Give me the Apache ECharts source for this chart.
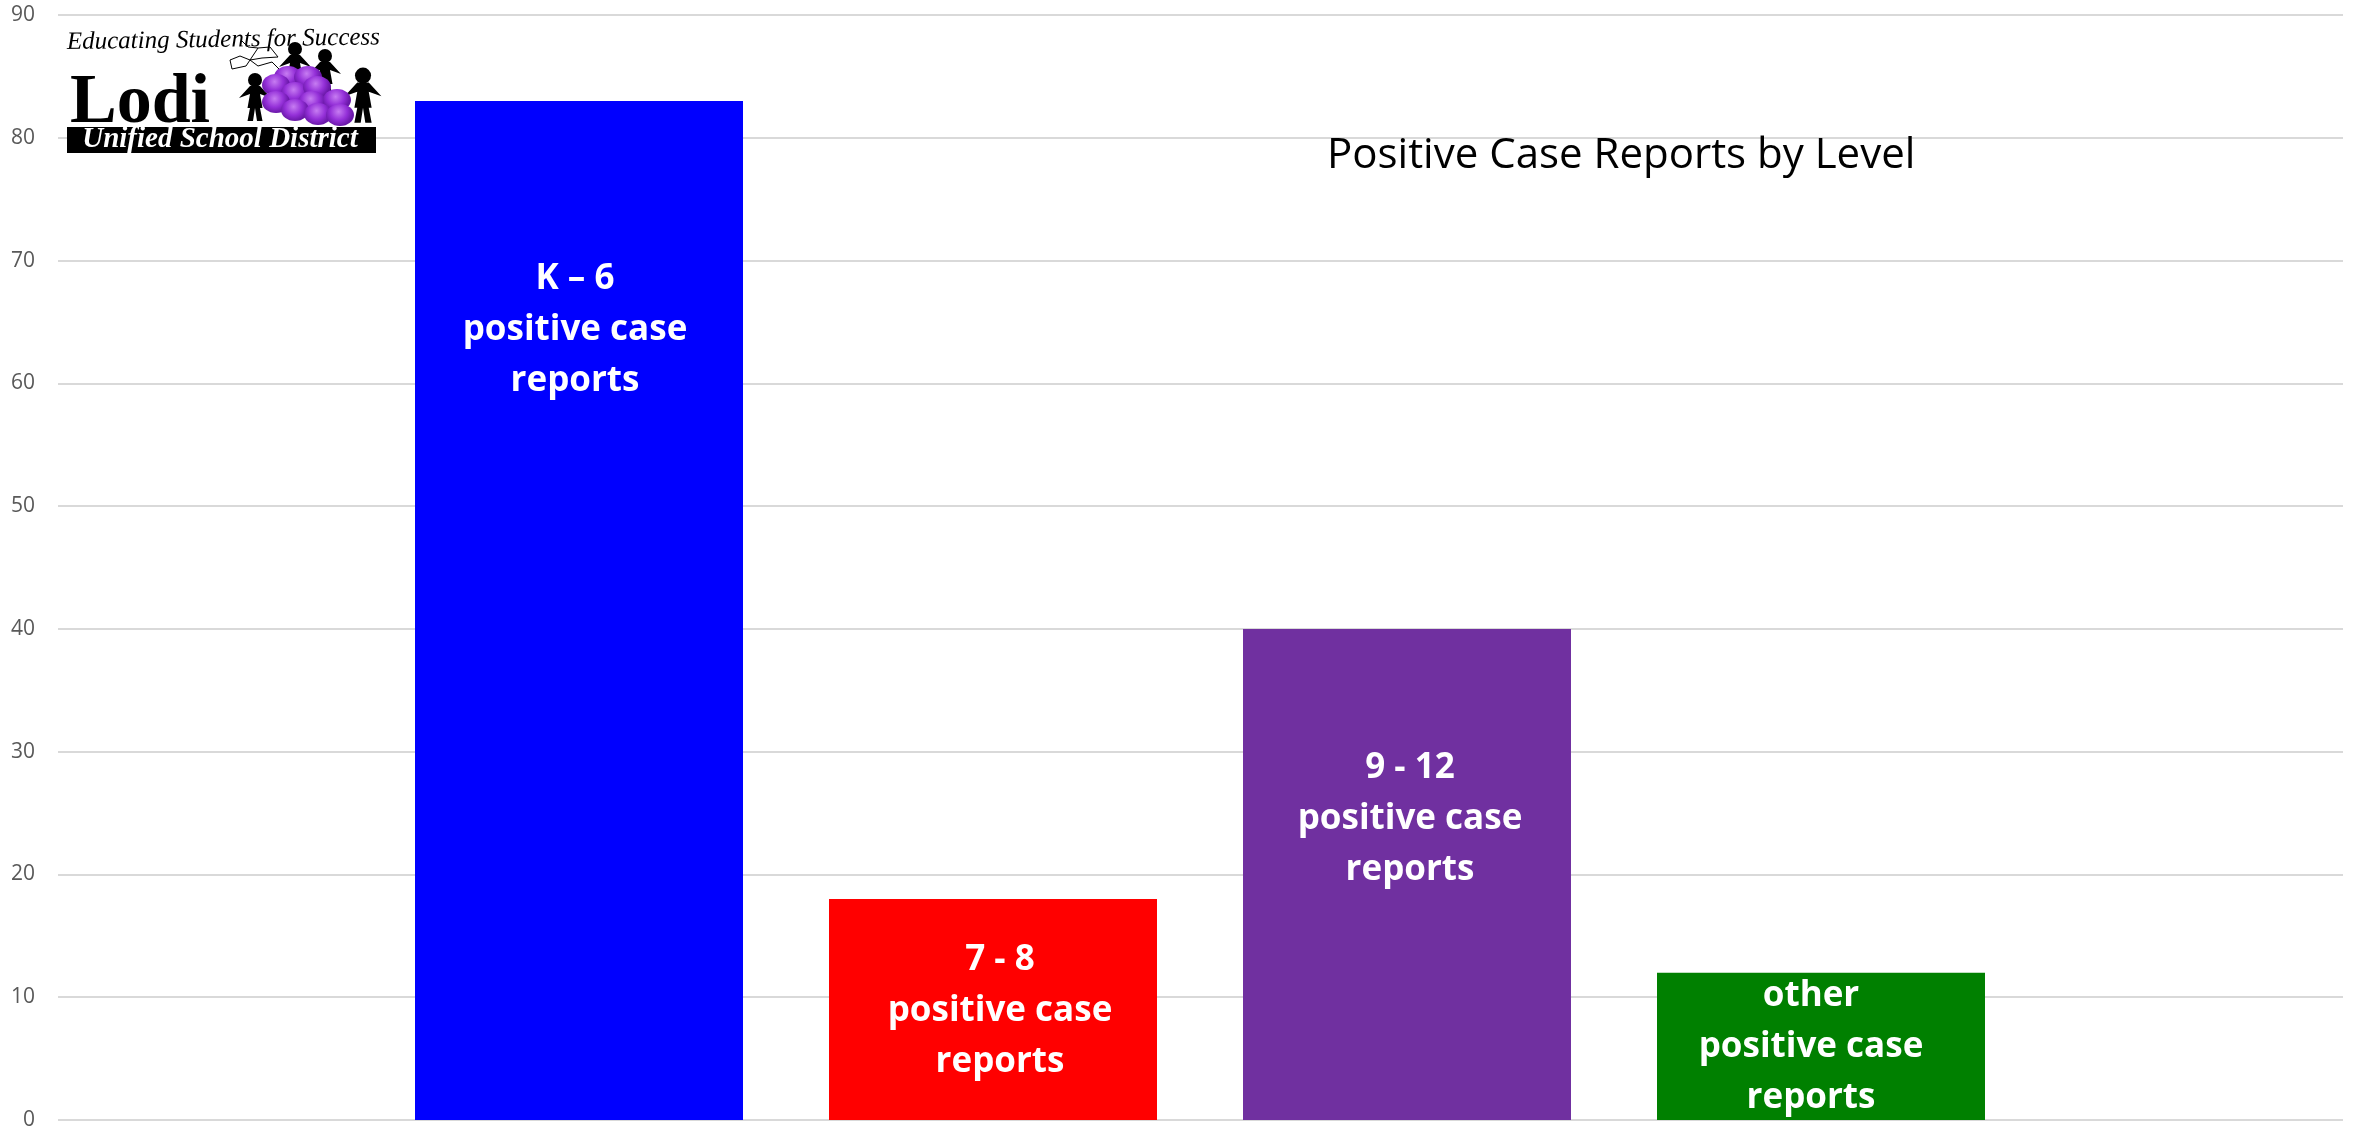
<!DOCTYPE html>
<html>
<head>
<meta charset="utf-8">
<title>Positive Case Reports by Level</title>
<style>
  html, body { margin: 0; padding: 0; background: #fff; }
  #chart { width: 2356px; height: 1135px; }
</style>
<script src="https://cdn.jsdelivr.net/npm/echarts@6/dist/echarts.min.js"></script>
</head>
<body>
<div id="chart"></div>
<script>
const chartTitle = 'Positive Case Reports by Level';
const categories = ['K – 6', '7 - 8', '9 - 12', 'other'];
const caseCounts = [83, 18, 40, 12];
const barColors = ['#0000FF', '#FF0000', '#7030A0', '#008000'];
const yTicks = [0, 10, 20, 30, 40, 50, 60, 70, 80, 90];
// label placement inside each bar
const labelDistance = [153, 36, 114, -2];
const labelShift = [-4, 7, 3, -10];

// logo pieces
const grapes = [
  [288, 77], [308, 77], [276, 85], [295, 93], [317, 87], [276, 102],
  [312, 102], [337, 100], [295, 110], [318, 114], [340, 115]
];
const kids = [
  [255, 96, 1], [295, 65, 1], [325, 72, 1], [363, 94, 1.15]
];

function kidShape(cx, cy, s) {
  const d = 5 * s;
  return [
    { type: 'circle', z: 10, shape: { cx: cx, cy: cy - 16 * s, r: 7 * s }, style: { fill: '#000' } },
    {
      type: 'polygon',
      z: 10,
      shape: {
        points: [
          [cx - 3.2 * d, cy + 2 * s], [cx - d, cy - 10 * s], [cx + d, cy - 10 * s], [cx + 3.2 * d, cy + 2 * s],
          [cx + d, cy - 2 * s], [cx + 1.5 * d, cy + 12 * s], [cx + d, cy + 12 * s], [cx + 1.5 * d, cy + 25 * s],
          [cx + 0.4 * d, cy + 25 * s], [cx, cy + 12 * s], [cx - 0.4 * d, cy + 25 * s], [cx - 1.5 * d, cy + 25 * s],
          [cx - d, cy + 12 * s], [cx - 1.5 * d, cy + 12 * s], [cx - d, cy - 2 * s]
        ]
      },
      style: { fill: '#000' }
    }
  ];
}

const logo = [];
kids.forEach(function (k) {
  kidShape(k[0], k[1], k[2]).forEach(function (el) { logo.push(el); });
});
grapes.forEach(function (g) {
  logo.push({
    type: 'ellipse',
    z: 11,
    shape: { cx: g[0], cy: g[1], rx: 14, ry: 11 },
    style: {
      fill: {
        type: 'radial', x: 0.45, y: 0.35, r: 0.65,
        colorStops: [{ offset: 0, color: '#C77CF2' }, { offset: 0.6, color: '#9430D8' }, { offset: 1, color: '#6A18A8' }]
      }
    }
  });
});
logo.push(
  {
    type: 'polyline',
    z: 10,
    shape: {
      points: [[230, 60], [240, 56], [250, 60], [246, 66], [232, 69], [230, 60]]
    },
    style: { fill: 'none', stroke: '#000', lineWidth: 1 }
  },
  {
    type: 'polyline',
    z: 10,
    shape: {
      points: [[250, 60], [258, 48], [270, 47], [278, 57], [262, 58], [250, 60], [258, 66], [272, 62], [280, 70]]
    },
    style: { fill: 'none', stroke: '#000', lineWidth: 1 }
  },
  {
    type: 'polyline',
    z: 10,
    smooth: 0.5,
    shape: { points: [[242, 41], [248, 47], [258, 48]] },
    style: { fill: 'none', stroke: '#000', lineWidth: 1 }
  },
  {
    type: 'text', z: 10, rotation: 0.015, x: 67, y: 55,
    style: {
      text: 'Educating Students for Success', fill: '#000',
      font: 'italic 25px "Liberation Serif"', align: 'left', verticalAlign: 'bottom'
    }
  },
  {
    type: 'text', z: 10, x: 70, y: 139,
    style: {
      text: 'Lodi', fill: '#000', font: 'bold 70px "Liberation Serif"',
      align: 'left', verticalAlign: 'bottom'
    }
  },
  { type: 'rect', z: 10, shape: { x: 67, y: 127, width: 309, height: 26 }, style: { fill: '#000' } },
  {
    type: 'text', z: 11, x: 220, y: 140,
    style: {
      text: 'Unified School District', fill: '#fff',
      font: 'italic bold 29px "Liberation Serif"', align: 'center', verticalAlign: 'middle'
    }
  }
);

const chart = echarts.init(document.getElementById('chart'));

chart.setOption({
  animation: false,
  backgroundColor: '#ffffff',
  title: {
    text: chartTitle,
    left: 1322,
    top: 130,
    textStyle: { color: '#000000', fontFamily: 'Open Sans', fontWeight: 'normal', fontSize: 42 }
  },
  graphic: logo,
  // gridlines run the full width, bars sit in an inner grid
  grid: [
    { left: 58, right: 13, top: 15, bottom: 15 },
    { left: 372, width: 1656, top: 15, bottom: 15 }
  ],
  xAxis: [
    { type: 'category', gridIndex: 0, data: categories, show: false },
    {
      type: 'category',
      gridIndex: 1,
      data: categories,
      axisLine: { show: false },
      axisTick: { show: false },
      axisLabel: { show: false }
    }
  ],
  yAxis: [
    {
      type: 'value',
      gridIndex: 0,
      min: yTicks[0],
      max: yTicks[yTicks.length - 1],
      interval: 10,
      axisLine: { show: false },
      axisTick: { show: false },
      axisLabel: { color: '#595959', fontFamily: 'Open Sans', fontSize: 21, margin: 23 },
      splitLine: { lineStyle: { color: '#D9D9D9', width: 2 } }
    },
    {
      type: 'value',
      gridIndex: 1,
      min: yTicks[0],
      max: yTicks[yTicks.length - 1],
      interval: 10,
      show: false,
      splitLine: { show: false }
    }
  ],
  series: [{
    type: 'bar',
    xAxisIndex: 1,
    yAxisIndex: 1,
    barWidth: 328,
    data: caseCounts.map(function (v, i) {
      return {
        value: v,
        itemStyle: { color: barColors[i] },
        label: {
          show: true,
          position: 'insideTop',
          distance: labelDistance[i],
          offset: [labelShift[i], 0],
          formatter: categories[i] + '\npositive case\nreports',
          color: '#ffffff',
          fontFamily: 'Open Sans',
          fontWeight: 'bold',
          fontSize: 35,
          lineHeight: 51
        }
      };
    })
  }]
});
</script>
</body>
</html>
